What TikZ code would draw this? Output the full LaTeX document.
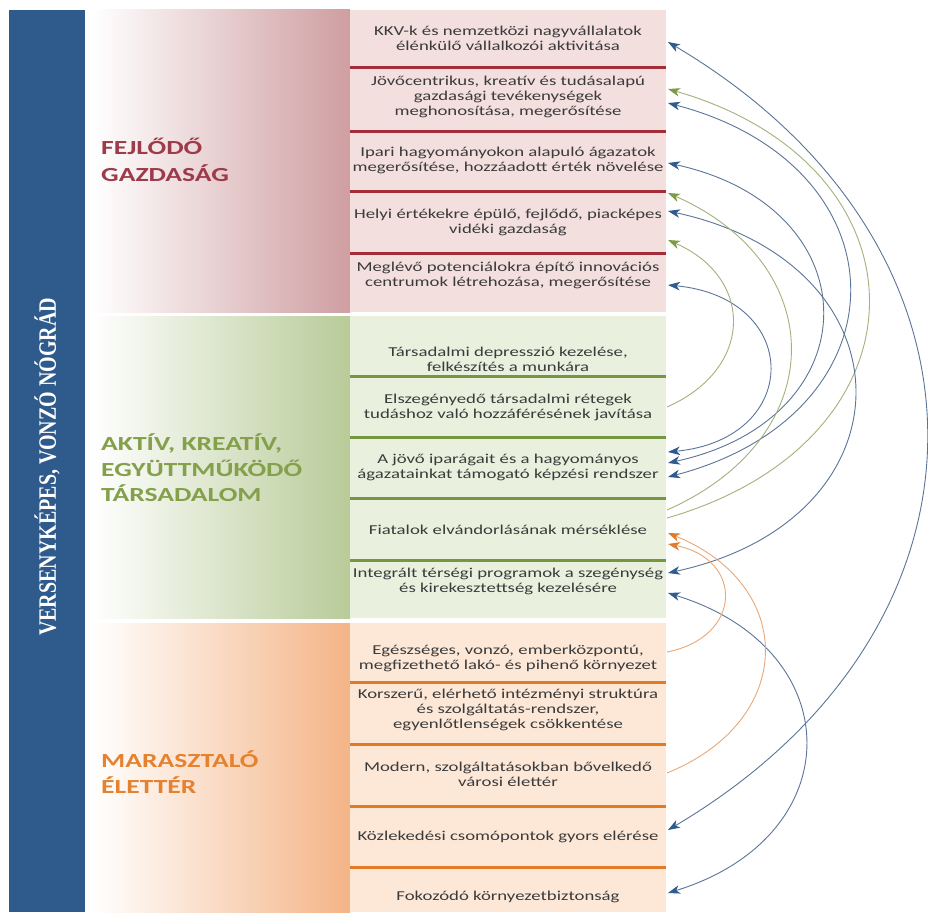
\documentclass[tikz,border=0pt]{standalone}
\usepackage{fontspec}
\setmainfont{Carlito}[FakeStretch=1.38]
\newfontfamily\vfont{Liberation Serif}
\usetikzlibrary{arrows.meta}
\definecolor{barblue}{HTML}{2E5A8C}
\definecolor{txtgray}{HTML}{3B3B3B}
\definecolor{redpanel}{HTML}{CF9EA1}
\definecolor{greenpanel}{HTML}{B8CB98}
\definecolor{orangepanel}{HTML}{F4B486}
\definecolor{redbox}{HTML}{F4DFDF}
\definecolor{greenbox}{HTML}{E9F1DE}
\definecolor{orangebox}{HTML}{FDE8D8}
\definecolor{redsep}{HTML}{A32E3A}
\definecolor{greensep}{HTML}{76973F}
\definecolor{orangesep}{HTML}{E27A26}
\definecolor{redtitle}{HTML}{9E3B4B}
\definecolor{greentitle}{HTML}{84A04A}
\definecolor{orangetitle}{HTML}{E5822F}
\definecolor{bluel}{HTML}{5B7598}
\definecolor{bluet}{HTML}{2F5A8C}
\definecolor{greenl}{HTML}{A3B27A}
\definecolor{greent}{HTML}{7D9A45}
\definecolor{orangel}{HTML}{E9A877}
\definecolor{oranget}{HTML}{E07B2D}
\begin{document}
\begin{tikzpicture}[x=1pt,y=-1pt,
  boxtext/.style={align=center, text=txtgray, font=\fontsize{13.6}{15}\selectfont, inner sep=0pt},
  title/.style={anchor=base west, inner sep=0pt, font=\fontsize{20}{24}\selectfont\bfseries},
  sepline/.style={line width=3pt},
  bluearc/.style={draw=bluel, line width=0.9pt,
    arrows={Stealth[length=12pt,width=8.5pt,inset=3.5pt,color=bluet]-Stealth[length=12pt,width=8.5pt,inset=3.5pt,color=bluet]}},
  greenarc/.style={draw=greenl, line width=0.9pt,
    arrows={-Stealth[length=12pt,width=8.5pt,inset=3.5pt,color=greent]}},
  orangearc/.style={draw=orangel, line width=0.9pt,
    arrows={-Stealth[length=12pt,width=8.5pt,inset=3.5pt,color=oranget]}}
]
\useasboundingbox (0,0) rectangle (928,912);
\fill[white] (0,0) rectangle (928,912);

% left blue bar
\fill[barblue] (9,10) rectangle (85,912);
\node[rotate=90, text=white, inner sep=0pt] (vtitle) at (47,467)
  {\scalebox{1}[1.25]{\vfont\fontsize{20}{24}\selectfont\bfseries VERSENYKÉPES, VONZÓ NÓGRÁD}};

% panels
\shade[left color=white, right color=redpanel] (92,10) rectangle (350,312);
\shade[left color=white, right color=greenpanel] (92,316) rectangle (350,618);
\shade[left color=white, right color=orangepanel] (92,623) rectangle (350,912);

% box columns
\fill[redbox] (350,10) rectangle (666,312);
\fill[greenbox] (350,316) rectangle (666,618);
\fill[orangebox] (350,623) rectangle (666,912);

% separators
\foreach \yy in {68,132,191,253} \draw[sepline, redsep] (350,\yy) -- (666,\yy);
\foreach \yy in {376,437,498,560} \draw[sepline, greensep] (350,\yy) -- (666,\yy);
\foreach \yy in {682,744,806,867} \draw[sepline, orangesep] (350,\yy) -- (666,\yy);

% titles
\node[title, text=redtitle] (t1a) at (101,155) {FEJLŐDŐ};
\node[title, text=redtitle] (t1b) at (101,182) {GAZDASÁG};
\node[title, text=greentitle] (t2a) at (101,450) {AKTÍV, KREATÍV,};
\node[title, text=greentitle] (t2b) at (101,476) {EGYÜTTMŰKÖDŐ};
\node[title, text=greentitle] (t2c) at (101,501) {TÁRSADALOM};
\node[title, text=orangetitle] (t3a) at (101,767) {MARASZTALÓ};
\node[title, text=orangetitle] (t3b) at (101,793) {ÉLETTÉR};

% box texts
\node[boxtext] (r1) at (508,38) {KKV-k és nemzetközi nagyvállalatok\\élénkülő vállalkozói aktivitása};
\node[boxtext] (r2) at (508,97) {Jövőcentrikus, kreatív és tudásalapú\\gazdasági tevékenységek\\meghonosítása, megerősítése};
\node[boxtext] (r3) at (508,160) {Ipari hagyományokon alapuló ágazatok\\megerősítése, hozzáadott érték növelése};
\node[boxtext] (r4) at (508,222) {Helyi értékekre épülő, fejlődő, piacképes\\vidéki gazdaság};
\node[boxtext] (r5) at (508,275) {Meglévő potenciálokra építő innovációs\\centrumok létrehozása, megerősítése};
\node[boxtext] (g1) at (508,359) {Társadalmi depresszió kezelése,\\felkészítés a munkára};
\node[boxtext] (g2) at (508,407) {Elszegényedő társadalmi rétegek\\tudáshoz való hozzáférésének javítása};
\node[boxtext] (g3) at (508,467) {A jövő iparágait és a hagyományos\\ágazatainkat támogató képzési rendszer};
\node[boxtext] (g4) at (508,530) {Fiatalok elvándorlásának mérséklése};
\node[boxtext] (g5) at (508,581) {Integrált térségi programok a szegénység\\és kirekesztettség kezelésére};
\node[boxtext] (o1) at (508,658) {Egészséges, vonzó, emberközpontú,\\megfizethető lakó- és pihenő környezet};
\node[boxtext] (o2) at (508,710) {Korszerű, elérhető intézményi struktúra\\és szolgáltatás-rendszer,\\egyenlőtlenségek csökkentése};
\node[boxtext] (o3) at (508,774.5) {Modern, szolgáltatásokban bővelkedő\\városi élettér};
\node[boxtext] (o4) at (508,837) {Közlekedési csomópontok gyors elérése};
\node[boxtext] (o5) at (508,897) {Fokozódó környezetbiztonság};

% connector end points
\coordinate (p42) at (668,42);
\coordinate (p89) at (668,89);
\coordinate (p103) at (668,103);
\coordinate (p163) at (668,163);
\coordinate (p193) at (668,193);
\coordinate (p211) at (668,211);
\coordinate (p240) at (668,240);
\coordinate (p285) at (668,285);
\coordinate (p407) at (667,407);
\coordinate (p452) at (668,452);
\coordinate (p463) at (668,463);
\coordinate (p477) at (668,477);
\coordinate (p510) at (667,510);
\coordinate (p518) at (667,518);
\coordinate (p533) at (668,533);
\coordinate (p544) at (668,544);
\coordinate (p573) at (668,573);
\coordinate (p593) at (668,593);
\coordinate (p652) at (667,652);
\coordinate (p773) at (667,773);
\coordinate (p830) at (668,830);
\coordinate (p893) at (668,893);

% connectors
\draw[bluearc] (p42) .. controls +(344,203.5) and +(344,-203.5) .. (p830);
\draw[greenarc] (p518) .. controls +(268,-77.1) and +(268,77.1) .. (p89);
\draw[bluearc] (p103) .. controls +(241,63.3) and +(241,-63.3) .. (p477);
\draw[bluearc] (p211) .. controls +(248,53.7) and +(248,-53.7) .. (p573);
\draw[bluearc] (p163) .. controls +(205,44.6) and +(205,-44.6) .. (p463);
\draw[greenarc] (p510) .. controls +(164,-72.3) and +(164,72.3) .. (p193);
\draw[bluearc] (p285) .. controls +(134.7,12.9) and +(134.7,-12.9) .. (p452);
\draw[greenarc] (p407) .. controls +(86.7,-38) and +(86.7,38) .. (p240);
\draw[bluearc] (p593) .. controls +(182.7,56.2) and +(182.7,-56.2) .. (p893);
\draw[orangearc] (p773) .. controls +(129.3,-52.5) and +(129.3,52.5) .. (p533);
\draw[orangearc] (p652) .. controls +(76,-14.9) and +(76,14.9) .. (p544);
\end{tikzpicture}
\end{document}
